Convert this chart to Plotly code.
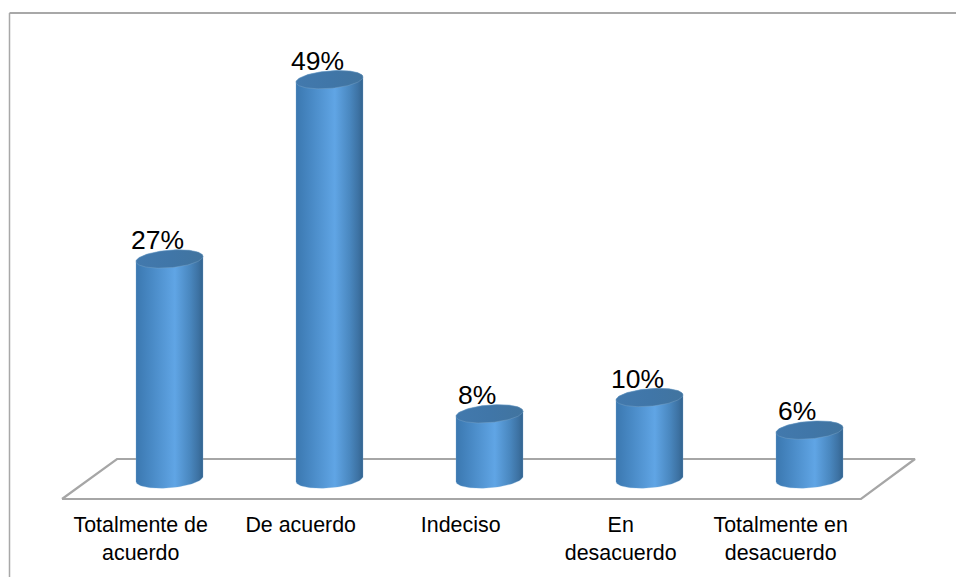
import numpy as np
import plotly.graph_objects as go

categories = ["Totalmente de<br>acuerdo", "De acuerdo", "Indeciso", "En<br>desacuerdo", "Totalmente en<br>desacuerdo"]
values = [27, 49, 8, 10, 6]
value_labels = ["27%", "49%", "8%", "10%", "6%"]

W, H = 956, 577
SLOT = 160.0        # px per category
X0 = 169.5          # px of first category
Y0 = 479.0          # px of value 0
PPU = 8.15          # px per percentage point
AXIS_BOTTOM = 507   # px
HALF_W = 33.5 / SLOT
EB = 8.8 / PPU
EK = 2.6 / PPU
FONT = "Liberation Sans, Arial, sans-serif"

def xd(px):
    return (px - X0) / SLOT

def yd(py):
    return (Y0 - py) / PPU

body_scale = [[0, "#3b78b0"], [0.25, "#4a8bc7"], [0.58, "#60a5e5"], [0.8, "#4a88c0"], [0.93, "#3d72a3"], [1, "#33648f"]]
top_scale = [[0, "#4279ad"], [0.5, "#4076a8"], [1, "#41749f"]]

fig = go.Figure()

# floor
fig.add_trace(go.Scatter(
    x=[xd(62), xd(861), xd(915), xd(117), xd(62)],
    y=[yd(499), yd(499), yd(459), yd(459), yd(499)],
    mode="lines", line=dict(color="#a6a6a6", width=2.2), hoverinfo="skip", showlegend=False))

for i, v in enumerate(values):
    t_front = np.linspace(np.pi, 0, 60)
    t_back = np.linspace(0, np.pi, 60)
    # silhouette: bottom front arc, then top rear arc
    bx = i + HALF_W * np.cos(t_front)
    by = -EB * np.sin(t_front) + EK * np.cos(t_front)
    tx = i + HALF_W * np.cos(t_back)
    ty = v + EB * np.sin(t_back) + EK * np.cos(t_back)
    fig.add_trace(go.Scatter(
        x=np.r_[bx, tx, bx[0]], y=np.r_[by, ty, by[0]],
        mode="lines", fill="toself",
        fillgradient=dict(type="horizontal", colorscale=body_scale),
        line=dict(color="rgba(120,170,215,0.6)", width=0.5), hoverinfo="skip", showlegend=False))
    t = np.linspace(0, 2 * np.pi, 120)
    fig.add_trace(go.Scatter(
        x=i + HALF_W * np.cos(t), y=v + EB * np.sin(t) + EK * np.cos(t),
        mode="lines", fill="toself",
        fillgradient=dict(type="horizontal", colorscale=top_scale),
        line=dict(color="rgba(125,165,200,0.7)", width=0.6), hoverinfo="skip", showlegend=False))

annotations = [
    dict(x=i, y=v, text=lab, showarrow=False, xshift=-12.5, yshift=19,
         font=dict(family=FONT, size=26.5, color="#000000"))
    for i, (v, lab) in enumerate(zip(values, value_labels))
]

# outer frame: left and top edges run off the picture
FRAME = "#a8a8a8"
plot_h = AXIS_BOTTOM

def pxp(px):
    return px / W

def pyp(py):
    return (plot_h - py) / plot_h

shapes = [
    dict(type="line", xref="paper", yref="paper", x0=pxp(9.5), x1=pxp(9.5), y0=pyp(13), y1=pyp(577),
         line=dict(color=FRAME, width=1.5)),
    dict(type="line", xref="paper", yref="paper", x0=pxp(9.5), x1=pxp(W), y0=pyp(13), y1=pyp(13),
         line=dict(color=FRAME, width=2)),
]

fig.update_layout(
    width=W, height=H,
    margin=dict(l=0, r=0, t=0, b=H - AXIS_BOTTOM, pad=0),
    paper_bgcolor="#ffffff", plot_bgcolor="rgba(0,0,0,0)",
    showlegend=False,
    annotations=annotations,
    shapes=shapes,
    xaxis=dict(
        range=[xd(0), xd(W)], showgrid=False, zeroline=False, showline=False,
        tickmode="array", tickvals=[i - 0.18 for i in range(len(categories))], ticktext=categories,
        ticks="", tickangle=0, ticklabelstandoff=3,
        tickfont=dict(family=FONT, size=21.4, color="#000000"),
    ),
    yaxis=dict(range=[yd(AXIS_BOTTOM), yd(0)], showgrid=False, zeroline=False, showline=False,
               showticklabels=False, ticks=""),
)

fig.write_html("out.html", config={"displayModeBar": False},
               post_script="document.body.style.margin='0';document.documentElement.style.overflow='hidden';")
